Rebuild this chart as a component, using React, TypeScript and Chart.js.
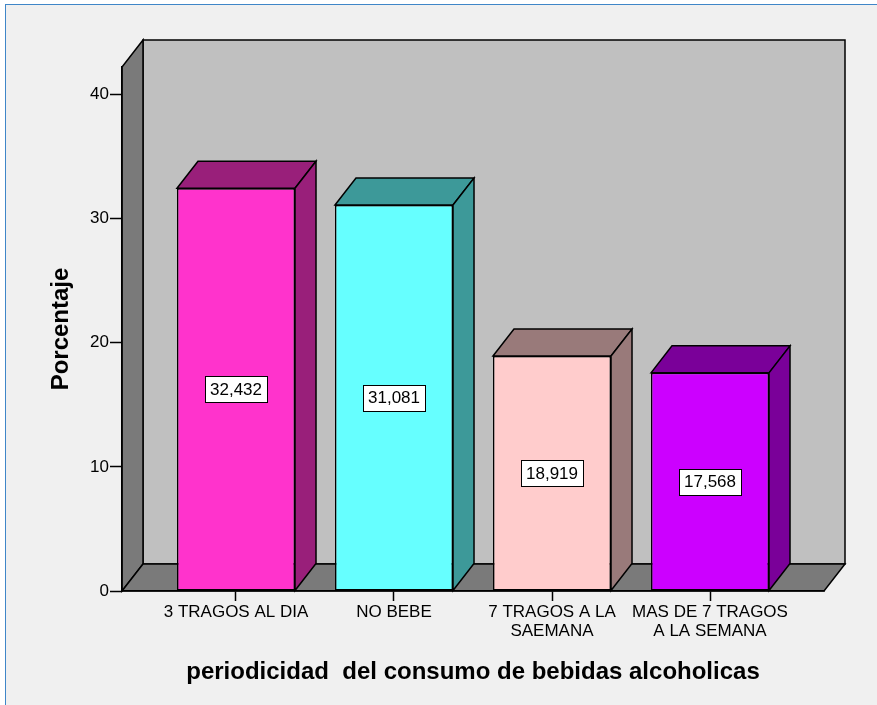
import React, { useEffect, useRef } from "react";
import { Chart, registerables } from "chart.js";

Chart.register(...registerables);

// ---- data ----
const categories: string[][] = [
  ["3 TRAGOS AL DIA"],
  ["NO BEBE"],
  ["7 TRAGOS A LA", "SAEMANA"],
  ["MAS DE 7 TRAGOS", "A LA SEMANA"],
];
const percentages: number[] = [32.432, 31.081, 18.919, 17.568];
const yTickValues: number[] = [0, 10, 20, 30, 40];
const frontColors: string[] = ["#ff33cc", "#66ffff", "#ffcccc", "#cc00ff"];
const shadeColors: string[] = ["#991f7a", "#3d9999", "#997a7a", "#7a0099"];
const xTitle = "periodicidad  del consumo de bebidas alcoholicas";
const yTitle = "Porcentaje";

// ---- styling constants ----
const FONT = "'Liberation Sans', Arial, sans-serif";
const DX = 21;
const DY = -27;
const WALL_BACK = "#c0c0c0";
const WALL_SIDE = "#7a7a7a";
const EDGE = "#000000";
const X_PAD = 0.7215; // scale padding (in category units) on each side
const Y_MAX = 42.2;

function poly(ctx: CanvasRenderingContext2D, pts: number[][], fill: string) {
  ctx.beginPath();
  ctx.moveTo(pts[0][0], pts[0][1]);
  for (let i = 1; i < pts.length; i++) ctx.lineTo(pts[i][0], pts[i][1]);
  ctx.closePath();
  ctx.fillStyle = fill;
  ctx.fill();
  ctx.stroke();
}

const depthPlugin = {
  id: "depth3d",
  beforeDraw(chart: any) {
    const { ctx, chartArea: a } = chart;
    ctx.save();
    ctx.lineWidth = 1.5;
    ctx.strokeStyle = EDGE;
    ctx.lineJoin = "miter";
    poly(
      ctx,
      [
        [a.left + DX, a.top + DY],
        [a.right + DX, a.top + DY],
        [a.right + DX, a.bottom + DY],
        [a.left + DX, a.bottom + DY],
      ],
      WALL_BACK
    );
    poly(
      ctx,
      [
        [a.left, a.bottom],
        [a.left, a.top],
        [a.left + DX, a.top + DY],
        [a.left + DX, a.bottom + DY],
      ],
      WALL_SIDE
    );
    poly(
      ctx,
      [
        [a.left, a.bottom],
        [a.left + DX, a.bottom + DY],
        [a.right + DX, a.bottom + DY],
        [a.right, a.bottom],
      ],
      WALL_SIDE
    );
    ctx.restore();
  },
  afterDatasetsDraw(chart: any) {
    const { ctx } = chart;
    const meta = chart.getDatasetMeta(0);
    ctx.save();
    ctx.lineWidth = 1.5;
    ctx.strokeStyle = EDGE;
    meta.data.forEach((bar: any, i: number) => {
      const { x, y, base, width } = bar.getProps(["x", "y", "base", "width"], true);
      const L = x - width / 2;
      const R = x + width / 2;
      const shade = shadeColors[i];
      poly(ctx, [[L, y], [L + DX, y + DY], [R + DX, y + DY], [R, y]], shade);
      poly(ctx, [[R, y], [R + DX, y + DY], [R + DX, base + DY], [R, base]], shade);
    });
    // value labels
    ctx.font = `17px ${FONT}`;
    ctx.textAlign = "center";
    ctx.textBaseline = "middle";
    meta.data.forEach((bar: any, i: number) => {
      const { x, y, base } = bar.getProps(["x", "y", "base"], true);
      const text = percentages[i].toFixed(3).replace(".", ",");
      const w = ctx.measureText(text).width + 10;
      const h = 26;
      const cy = (y + base) / 2;
      ctx.fillStyle = "#ffffff";
      ctx.fillRect(Math.round(x - w / 2) + 0.5, Math.round(cy - h / 2) + 0.5, Math.round(w), h);
      ctx.lineWidth = 1;
      ctx.strokeStyle = "#000";
      ctx.strokeRect(Math.round(x - w / 2) + 0.5, Math.round(cy - h / 2) + 0.5, Math.round(w), h);
      ctx.fillStyle = "#000";
      ctx.fillText(text, x, cy + 1);
    });
    ctx.restore();
  },
};

export default function App() {
  const ref = useRef<HTMLCanvasElement | null>(null);

  useEffect(() => {
    if (!ref.current) return;
    const chart = new Chart(ref.current, {
      type: "bar",
      data: {
        datasets: [
          {
            data: percentages.map((v, i) => ({ x: i, y: v })),
            backgroundColor: frontColors,
            borderColor: EDGE,
            borderWidth: 1.5,
            borderSkipped: false,
            categoryPercentage: 0.747,
            barPercentage: 1,
          },
        ],
      },
      options: {
        responsive: false,
        animation: false,
        events: [],
        layout: { padding: { left: 0, right: 53, top: 67, bottom: 0 } },
        plugins: {
          legend: { display: false },
          tooltip: { enabled: false },
        },
        scales: {
          x: {
            type: "linear",
            offset: false,
            min: -X_PAD,
            max: categories.length - 1 + X_PAD,
            afterBuildTicks: (axis: any) => {
              axis.ticks = categories.map((_, i) => ({ value: i }));
            },
            afterFit: (scale: any) => {
              scale.height = 114;
            },
            ticks: {
              autoSkip: false,
              maxRotation: 0,
              minRotation: 0,
              padding: 2,
              color: "#000",
              font: { family: FONT, size: 17, lineHeight: 1.12 },
              callback: (v: any) => {
                const c = categories[Math.round(Number(v))];
                return c ? (c.length === 1 ? c[0] : c) : "";
              },
            },
            grid: {
              display: true,
              offset: false,
              drawOnChartArea: false,
              drawTicks: true,
              tickLength: 10,
              tickColor: "#000",
              tickWidth: 1.5,
              color: "#000",
            },
            border: { display: true, color: "#000", width: 1.5 },
            title: {
              display: true,
              text: xTitle,
              color: "#000",
              font: { family: FONT, size: 24, weight: "bold", lineHeight: 1.2 },
              padding: { top: 0, bottom: 18 },
            },
          },
          y: {
            type: "linear",
            min: 0,
            max: Y_MAX,
            afterBuildTicks: (axis: any) => {
              axis.ticks = yTickValues.map((v) => ({ value: v }));
            },
            afterFit: (scale: any) => {
              scale.width = 122;
            },
            ticks: {
              padding: 1,
              color: "#000",
              font: { family: FONT, size: 17 },
            },
            grid: {
              display: true,
              drawOnChartArea: false,
              drawTicks: true,
              tickLength: 12,
              tickColor: "#000",
              tickWidth: 1.5,
              color: "#000",
            },
            border: { display: true, color: "#000", width: 1.5 },
            title: {
              display: true,
              text: yTitle,
              color: "#000",
              font: { family: FONT, size: 24, weight: "bold", lineHeight: 1.2 },
              padding: { top: 47, bottom: 0 },
            },
          },
        },
      },
      plugins: [depthPlugin],
    } as any);
    return () => chart.destroy();
  }, []);

  return (
    <div
      style={{
        position: "absolute",
        left: 0,
        top: 0,
        width: 877,
        height: 705,
        background: "#ffffff",
        overflow: "hidden",
      }}
    >
      <div
        style={{
          position: "absolute",
          left: 5,
          top: 4,
          width: 900,
          height: 720,
          background: "#f0f0f0",
          borderTop: "1px solid #3f86c8",
          borderLeft: "1px solid #3f86c8",
        }}
      />
      <canvas
        ref={ref}
        width={877}
        height={705}
        style={{ position: "absolute", left: 0, top: 0, width: 877, height: 705 }}
      />
    </div>
  );
}
